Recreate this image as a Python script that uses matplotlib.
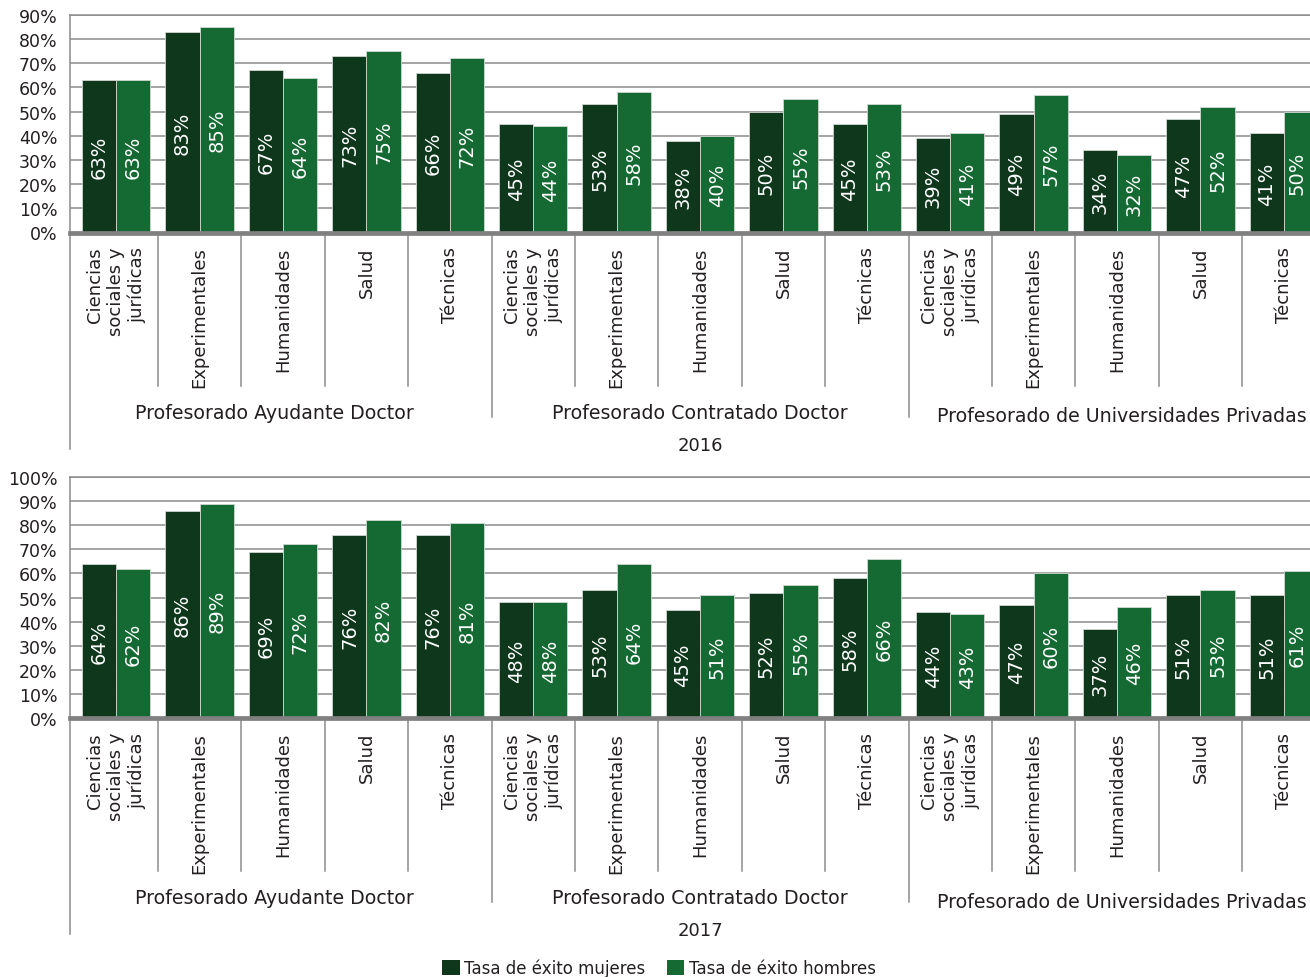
import matplotlib
matplotlib.use("Agg")
import matplotlib.pyplot as plt
from matplotlib.patches import Patch
import numpy as np

# categories
areas = ["Ciencias\nsociales y\njurídicas", "Experimentales", "Humanidades", "Salud", "Técnicas"]
cuerpos = ["Profesorado Ayudante Doctor", "Profesorado Contratado Doctor",
           "Profesorado de Universidades Privadas"]
series_names = ["Tasa de éxito mujeres", "Tasa de éxito hombres"]

# success rates (%) per area, three blocks of five
mujeres_2016 = [63, 83, 67, 73, 66, 45, 53, 38, 50, 45, 39, 49, 34, 47, 41]
hombres_2016 = [63, 85, 64, 75, 72, 44, 58, 40, 55, 53, 41, 57, 32, 52, 50]
mujeres_2017 = [64, 86, 69, 76, 76, 48, 53, 45, 52, 58, 44, 47, 37, 51, 51]
hombres_2017 = [62, 89, 72, 82, 81, 48, 64, 51, 55, 66, 43, 60, 46, 53, 61]

C_MUJ = "#0f371c"
C_HOM = "#146a32"
GRID = "#8c8c8c"
TXT = "#231f20"

plt.rcParams["font.family"] = ["DejaVu Sans"]

W, H, DPI = 1310, 978, 100
fig = plt.figure(figsize=(W / DPI, H / DPI), dpi=DPI)

XLIM = (-0.555, 14.313)


def draw_panel(ax, muj, hom, ymax, year, h_px):
    x = np.arange(len(muj))
    w = 0.41
    b1 = ax.bar(x - w / 2, muj, w, color=C_MUJ, edgecolor="#cfd8d0", linewidth=0.6)
    b2 = ax.bar(x + w / 2, hom, w, color=C_HOM, edgecolor="#cfd8d0", linewidth=0.6)
    for bars, vals in ((b1, muj), (b2, hom)):
        ax.bar_label(bars, labels=[f"{v}%" for v in vals], label_type="center",
                     rotation=90, color="white", fontsize=14)

    ax.set_xlim(*XLIM)
    ax.set_ylim(0, ymax)
    ticks = list(range(0, ymax + 1, 10))
    ax.set_yticks(ticks)
    ax.set_yticklabels([f"{t}%" for t in ticks], fontsize=12.5, color=TXT)
    ax.tick_params(axis="y", length=0, pad=9)
    ax.yaxis.grid(True, color=GRID, linewidth=1.1)
    ax.set_axisbelow(True)

    ax.set_xticks(x)
    ax.set_xticklabels(areas * 3, rotation=90, va="top", ha="center",
                       multialignment="right", fontsize=13, color=TXT)
    ax.tick_params(axis="x", length=0, pad=10)

    ax.spines["right"].set_visible(False)
    ax.spines["top"].set_color(GRID)
    ax.spines["top"].set_linewidth(1.1)
    ax.spines["left"].set_color(GRID)
    ax.spines["left"].set_linewidth(1.1)
    ax.spines["bottom"].set_color("#808080")
    ax.spines["bottom"].set_linewidth(3.4)

    trans = ax.get_xaxis_transform()

    def px(d):
        return -d / h_px

    # separators between areas and between blocks
    for b in np.arange(0.5, 14, 1.0):
        depth = 184 if b in (4.5, 9.5) else 153
        ax.plot([b, b], [0, px(depth)], transform=trans, color=GRID,
                linewidth=1.1, clip_on=False)
    ax.plot([XLIM[0], XLIM[0]], [0, px(216)], transform=trans, color=GRID,
            linewidth=1.1, clip_on=False)

    centers = [1.9, 7.0, 12.06]
    offs = [180, 180, 183]
    for name, cx, off in zip(cuerpos, centers, offs):
        ax.text(cx, px(off), name, transform=trans, ha="center", va="center",
                fontsize=13.7, color=TXT)
    ax.text(7.0, px(212), year, transform=trans, ha="center", va="center",
            fontsize=13, color=TXT)


left = 70 / W
# top panel: zero at y=233.5 px, 90% at 15.7 px
h_top = 233.5 - 15.7
ax1 = fig.add_axes([left, 1 - 233.5 / H, 1 - left, h_top / H])
draw_panel(ax1, mujeres_2016, hombres_2016, 90, "2016", h_top)

# bottom panel: zero at y=719 px, 100% at 478 px
h_bot = 719 - 478
ax2 = fig.add_axes([left, 1 - 719 / H, 1 - left, h_bot / H])
draw_panel(ax2, mujeres_2017, hombres_2017, 100, "2017", h_bot)

handles = [Patch(facecolor=C_MUJ), Patch(facecolor=C_HOM)]
fig.legend(handles, series_names, loc="center", bbox_to_anchor=(0.503, 1 - 969 / H),
           ncol=2, frameon=False, fontsize=12, handlelength=1.05, handleheight=1.05,
           handletextpad=0.25, columnspacing=1.3, borderpad=0)
for t in fig.legends[0].get_texts():
    t.set_color(TXT)

fig.savefig("out.png", dpi=DPI)
